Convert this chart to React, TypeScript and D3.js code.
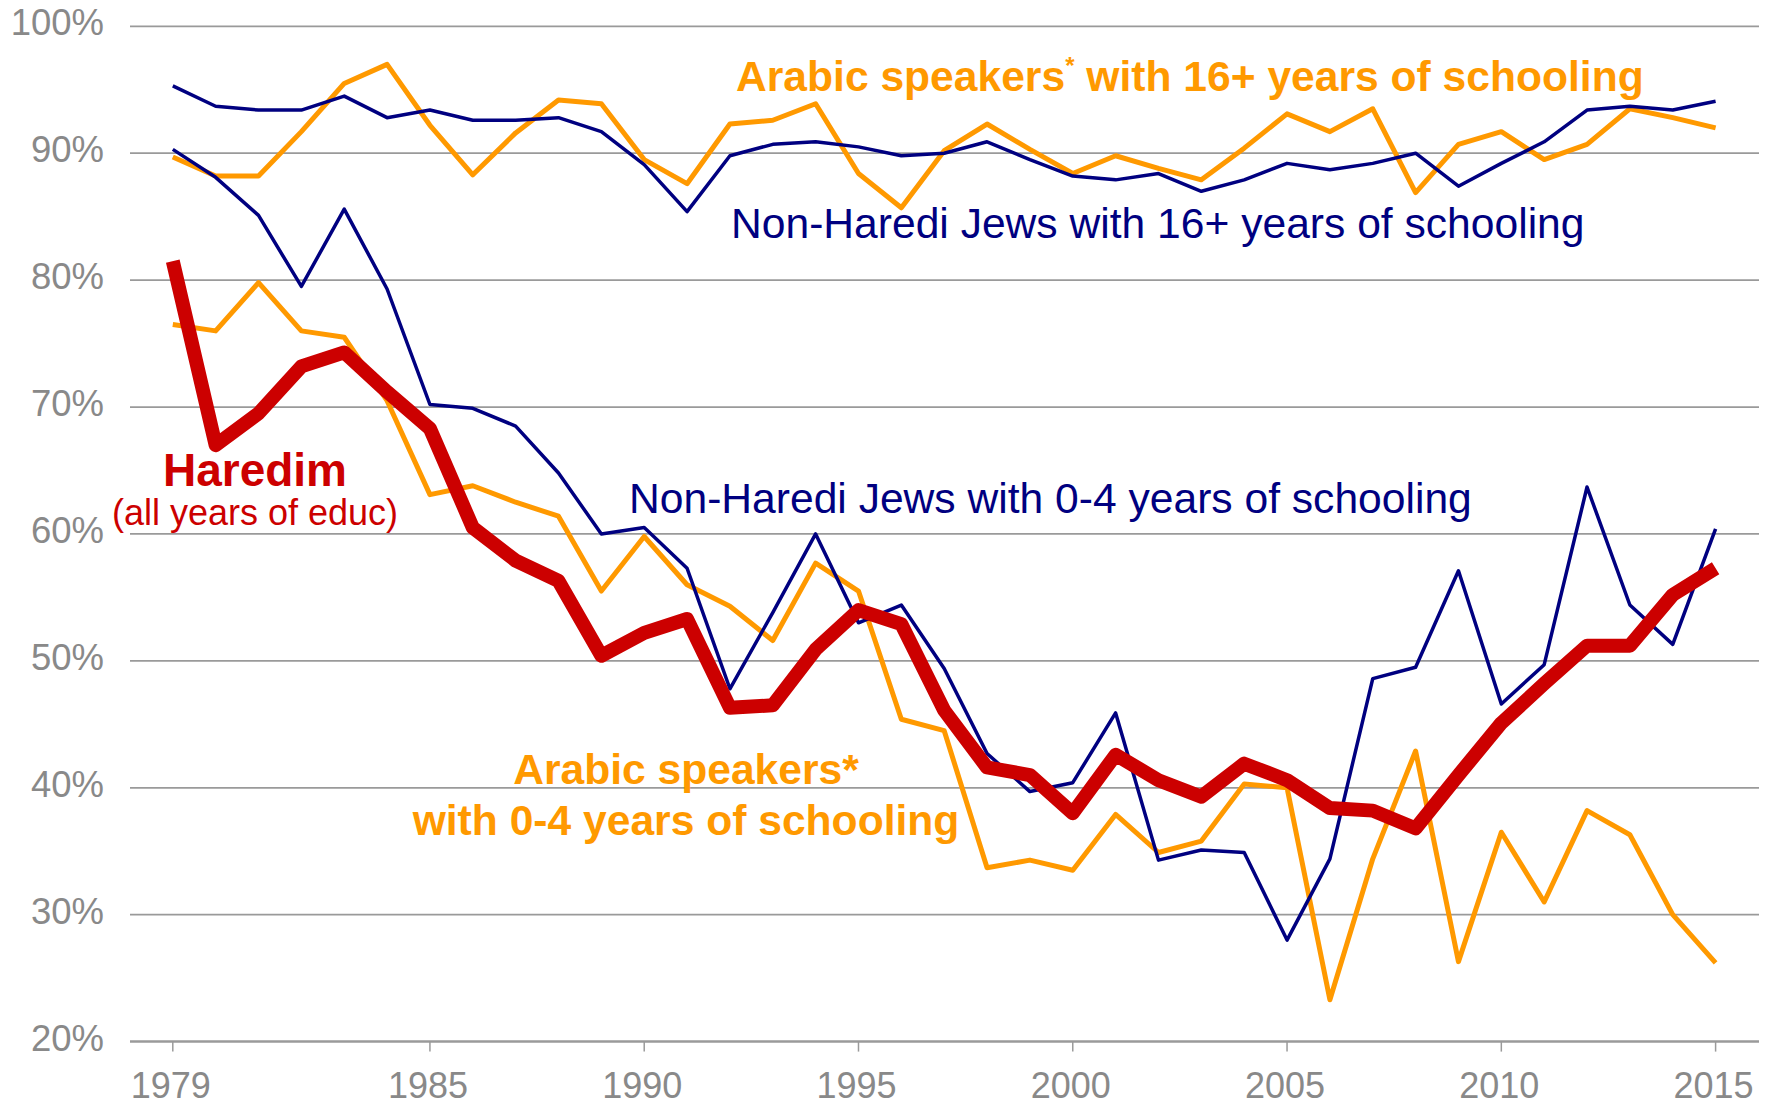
import React from 'react'
import * as d3 from 'd3'

const years = d3.range(1979, 2016)

const arabic16 = [89.7, 88.2, 88.2, 91.7, 95.5, 97.0, 92.2, 88.3, 91.6, 94.2, 93.9, 89.5, 87.6, 92.3, 92.6, 93.9, 88.4,
  85.7, 90.2, 92.3, 90.3, 88.4, 89.8, 88.8, 87.9, 90.4, 93.1, 91.7, 93.5, 86.9, 90.7, 91.7, 89.5, 90.7, 93.5, 92.8, 92.0]
const jews16 = [95.3, 93.7, 93.4, 93.4, 94.5, 92.8, 93.4, 92.6, 92.6, 92.8, 91.7, 89.1, 85.4, 89.8, 90.7, 90.9, 90.5,
  89.8, 90.0, 90.9, 89.5, 88.2, 87.9, 88.4, 87.0, 87.9, 89.2, 88.7, 89.2, 90.0, 87.4, 89.2, 90.9, 93.4, 93.7, 93.4, 94.1]
const jews04 = [90.3, 88.1, 85.1, 79.5, 85.6, 79.3, 70.2, 69.9, 68.5, 64.8, 60.0, 60.5, 57.3, 47.8, 53.8, 60.0, 53.0,
  54.4, 49.4, 42.7, 39.7, 40.4, 45.9, 34.3, 35.1, 34.9, 28.0, 34.4, 48.6, 49.5, 57.1, 46.6, 49.7, 63.7, 54.4, 51.3, 60.4]
const arabic04 = [76.5, 76.0, 79.8, 76.0, 75.5, 70.5, 63.1, 63.8, 62.5, 61.4, 55.5, 59.8, 56.0, 54.3, 51.6, 57.7, 55.5,
  45.4, 44.5, 33.7, 34.3, 33.5, 37.9, 34.9, 35.8, 40.3, 40.0, 23.3, 34.4, 42.9, 26.3, 36.5, 31.0, 38.2, 36.3, 30.0, 26.2]
const haredim = [81.5, 67.0, 69.5, 73.2, 74.3, 71.2, 68.3, 60.5, 57.9, 56.3, 50.4, 52.2, 53.3, 46.3, 46.5, 50.9, 54.0,
  52.9, 46.1, 41.6, 41.0, 38.0, 42.6, 40.6, 39.3, 41.9, 40.6, 38.4, 38.2, 36.8, 41.0, 45.1, 48.2, 51.2, 51.2, 55.2, 57.3]

const yTicks = [20, 30, 40, 50, 60, 70, 80, 90, 100]
const xTicks = [1979, 1985, 1990, 1995, 2000, 2005, 2010, 2015]

const ORANGE = '#ff9900'
const NAVY = '#000080'
const RED = '#cc0000'
const GRAY = '#898989'

const App = () => {
  const width = 1770
  const height = 1105
  const x = d3.scaleLinear().domain([1979, 2015]).range([172.8, 1715.6])
  const y = d3.scaleLinear().domain([20, 100]).range([1041.6, 26.3])
  const left = 130
  const right = 1759

  const line = d3.line<number>()
    .x((d, i) => x(years[i]))
    .y(d => y(d))

  const series = [
    {values: arabic16, color: ORANGE, w: 5},
    {values: arabic04, color: ORANGE, w: 5},
    {values: jews16, color: NAVY, w: 3.5},
    {values: jews04, color: NAVY, w: 3.5},
    {values: haredim, color: RED, w: 14},
  ]

  return (
    <div style={{position: 'absolute', left: 0, top: 0}}>
      <svg width={width} height={height} style={{display: 'block'}} fontFamily="'Liberation Sans', Arial, sans-serif">
        <rect width={width} height={height} fill="#fff"/>
        {yTicks.map(t => (
          <g key={t}>
            <line x1={left} x2={right} y1={y(t)} y2={y(t)} stroke="#9a9a9a" strokeWidth={t === 20 ? 2.5 : 1.8}/>
            <text x={104} y={y(t) + 9} textAnchor="end" fontSize={36.5} fill={GRAY}>{t}%</text>
          </g>
        ))}
        {xTicks.map(t => (
          <g key={t}>
            <line x1={x(t)} x2={x(t)} y1={y(20)} y2={y(20) + 10} stroke="#9a9a9a" strokeWidth={1.5}/>
            <text x={x(t) - 2} y={1098} textAnchor="middle" fontSize={36} fill={GRAY}>{t}</text>
          </g>
        ))}
        {series.map((s, i) => (
          <path key={i} d={line(s.values) || ''} fill="none" stroke={s.color} strokeWidth={s.w}
            strokeLinejoin="round"/>
        ))}

        <text x={736} y={91} fontSize={42.6} fontWeight="bold" fill={ORANGE}>
          Arabic speakers<tspan fontSize={24} dy={-17}>*</tspan><tspan dy={17}> with 16+ years of schooling</tspan>
        </text>
        <text x={731} y={238} fontSize={42.6} fill={NAVY}>Non-Haredi Jews with 16+ years of schooling</text>
        <text x={629} y={513} fontSize={42.6} fill={NAVY}>Non-Haredi Jews with 0-4 years of schooling</text>
        <text x={255} y={486} fontSize={46} fontWeight="bold" fill={RED} textAnchor="middle">Haredim</text>
        <text x={255} y={525} fontSize={36} fill={RED} textAnchor="middle">(all years of educ)</text>
        <text x={686} y={784} fontSize={42.6} fontWeight="bold" fill={ORANGE} textAnchor="middle">Arabic speakers*</text>
        <text x={686} y={835} fontSize={42.6} fontWeight="bold" fill={ORANGE} textAnchor="middle">with 0-4 years of schooling</text>
      </svg>
    </div>
  )
}

export default App
